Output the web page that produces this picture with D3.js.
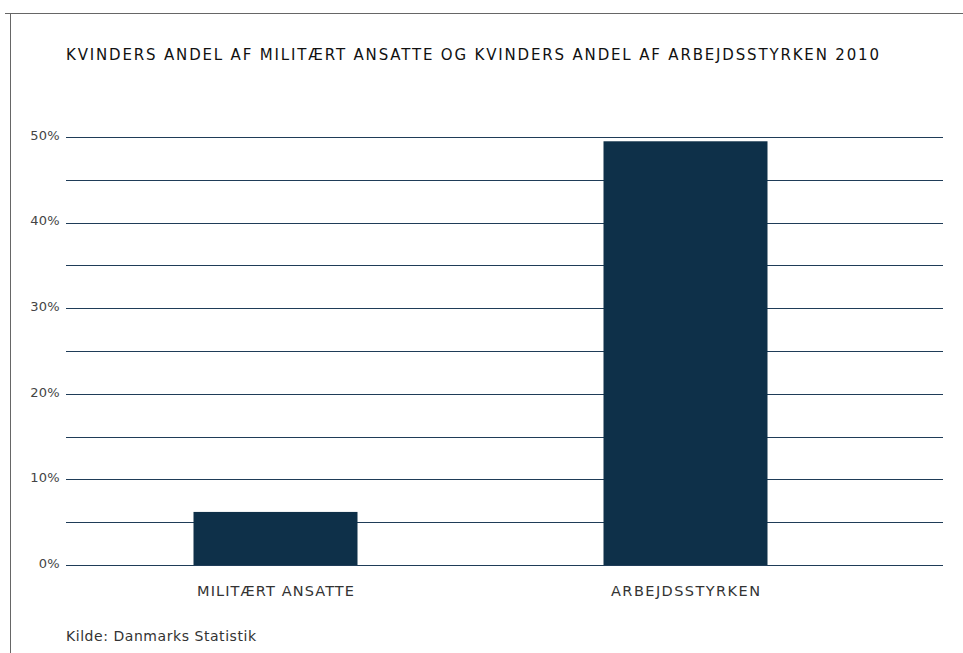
<!DOCTYPE html>
<html>
<head>
<meta charset="utf-8">
<script src="https://cdn.jsdelivr.net/npm/d3@7"></script>
<style>
  body { margin: 0; background: #fff; }
  text { font-family: "DejaVu Sans", "Liberation Sans", sans-serif; }
</style>
</head>
<body>
<svg id="chart" width="963" height="653"></svg>
<script>
const categories = ["MILITÆRT ANSATTE", "ARBEJDSSTYRKEN"]
const values = [6.2, 49.5]
const yTicks = [0, 10, 20, 30, 40, 50]
const gridTicks = [0, 5, 10, 15, 20, 25, 30, 35, 40, 45, 50]
const title = "KVINDERS ANDEL AF MILITÆRT ANSATTE OG KVINDERS ANDEL AF ARBEJDSSTYRKEN 2010"
const source = "Kilde: Danmarks Statistik"
// measured label widths in the reference
const labelWidths = [157, 149]

const width = 963
const height = 653
const svg = d3.select("#chart")

// frame (only top and left edges visible)
svg.append("path")
  .attr("d", `M5,13.5 H${width} M10.5,13 V${height}`)
  .attr("stroke", "#666")
  .attr("fill", "none")

const x = d3.scaleBand(categories, [70.5, 890.5])
  .paddingInner(0.6)
  .paddingOuter(0.3)
const y = d3.scaleLinear([0, 50], [565, 137])

// gridlines
svg.append("g")
  .selectAll("line")
  .data(gridTicks)
  .join("line")
  .attr("x1", 66)
  .attr("x2", 943)
  .attr("y1", d => Math.round(y(d)) + 0.5)
  .attr("y2", d => Math.round(y(d)) + 0.5)
  .attr("stroke", "#1f3c58")
  .attr("stroke-width", 1)

// bars
svg.append("g")
  .selectAll("rect")
  .data(values)
  .join("rect")
  .attr("x", (d, i) => x(categories[i]))
  .attr("width", x.bandwidth())
  .attr("y", d => y(d))
  .attr("height", d => y(0) - y(d))
  .attr("fill", "#0e3049")

// y axis labels
const yAxis = d3.axisLeft(y)
  .tickValues(yTicks)
  .tickFormat(d => d + "%")
  .tickSize(0)
  .tickPadding(0)
const gy = svg.append("g")
  .attr("transform", "translate(60,0)")
  .call(yAxis)
gy.select(".domain").remove()
gy.selectAll("text")
  .attr("font-size", 13)
  .attr("fill", "#444")
  .attr("dy", "0.17em")
  .attr("letter-spacing", "0.3px")
  .attr("font-family", "DejaVu Sans, sans-serif")

// x axis labels
const xAxis = d3.axisBottom(x).tickSize(0).tickPadding(0)
const gx = svg.append("g")
  .attr("transform", "translate(0,596)")
  .call(xAxis)
gx.select(".domain").remove()
gx.selectAll("text")
  .attr("dy", 0)
  .attr("font-size", 14.5)
  .attr("fill", "#333")
  .attr("font-family", "DejaVu Sans, sans-serif")
  .attr("textLength", (d, i) => labelWidths[i])
  .attr("lengthAdjust", "spacing")

svg.append("text")
  .attr("x", 66)
  .attr("y", 60)
  .attr("font-size", 15)
  .attr("fill", "#111")
  .attr("textLength", 813)
  .attr("lengthAdjust", "spacing")
  .text(title)

svg.append("text")
  .attr("x", 66)
  .attr("y", 641)
  .attr("font-size", 14)
  .attr("fill", "#333")
  .attr("textLength", 190)
  .attr("lengthAdjust", "spacing")
  .text(source)
</script>
</body>
</html>
